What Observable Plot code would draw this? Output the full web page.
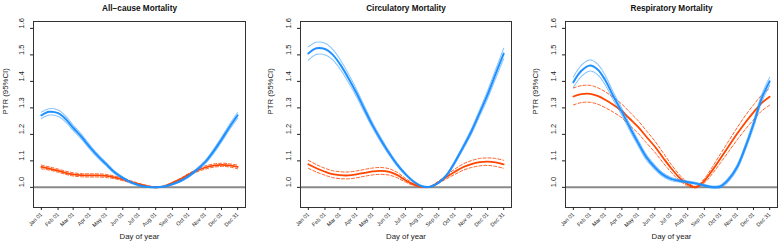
<!DOCTYPE html>
<html>
<head>
<meta charset="utf-8">
<script src="https://cdn.jsdelivr.net/npm/d3@7"></script>
<script src="https://cdn.jsdelivr.net/npm/@observablehq/plot@0.6"></script>
<style>
  html, body { margin: 0; padding: 0; background: white; }
  #wrap { display: flex; width: 778px; height: 242px; }
  #wrap svg { display: block; }
</style>
</head>
<body>
<div id="wrap"></div>
<script>
// Day-of-year grid on which curves were read
const days = [1, 16, 32, 46, 60, 75, 91, 106, 121, 136, 152, 167, 182, 197, 213, 228, 244, 259, 274, 289, 305, 320, 335, 350, 365];

// Tick positions and labels
const monthDays = [1, 32, 60, 91, 121, 152, 182, 213, 244, 274, 305, 335, 365];
const monthLabels = ["Jan 01","Feb 01","Mar 01","Apr 01","May 01","Jun 01","Jul 01","Aug 01","Sep 01","Oct 01","Nov 01","Dec 01","Dec 31"];
const yTicks = [1.0, 1.1, 1.2, 1.3, 1.4, 1.5, 1.6];

const titles = ["All\u2212cause Mortality", "Circulatory Mortality", "Respiratory Mortality"];

// All-cause
const allBlue = [1.272,1.285,1.280,1.258,1.225,1.192,1.152,1.118,1.088,1.058,1.036,1.019,1.008,1.002,1.000,1.003,1.012,1.024,1.042,1.066,1.096,1.135,1.180,1.228,1.272];
const allBlueCI = [0.012,0.012,0.012,0.011,0.010,0.009,0.008,0.007,0.006,0.005,0.004,0.003,0.002,0.001,0.001,0.001,0.002,0.003,0.004,0.005,0.006,0.008,0.009,0.010,0.011];
const allOrange = [1.077,1.071,1.063,1.055,1.049,1.046,1.045,1.045,1.043,1.038,1.030,1.021,1.012,1.005,1.000,1.004,1.017,1.031,1.048,1.063,1.075,1.082,1.085,1.083,1.077];
const allOrangeCI = [0.007,0.006,0.006,0.006,0.006,0.006,0.006,0.006,0.006,0.005,0.005,0.004,0.003,0.002,0.001,0.001,0.002,0.003,0.004,0.005,0.006,0.006,0.006,0.006,0.007];

// Circulatory
const circBlue = [1.505,1.525,1.522,1.502,1.465,1.415,1.355,1.293,1.233,1.180,1.128,1.085,1.050,1.022,1.004,1.002,1.018,1.047,1.095,1.150,1.212,1.280,1.350,1.428,1.505];
const circBlueCI = [0.025,0.023,0.022,0.020,0.018,0.016,0.014,0.012,0.010,0.009,0.007,0.006,0.004,0.002,0.001,0.001,0.002,0.004,0.006,0.008,0.010,0.012,0.015,0.017,0.020];
const circOrange = [1.087,1.072,1.059,1.050,1.046,1.045,1.049,1.055,1.060,1.062,1.058,1.046,1.027,1.011,1.002,1.002,1.020,1.040,1.059,1.076,1.088,1.095,1.097,1.094,1.087];
const circOrangeCI = [0.015,0.014,0.013,0.013,0.013,0.013,0.013,0.013,0.013,0.013,0.012,0.010,0.007,0.004,0.002,0.002,0.004,0.007,0.010,0.012,0.013,0.014,0.014,0.015,0.015];

// Respiratory
const respBlue = [1.397,1.440,1.460,1.445,1.405,1.345,1.285,1.225,1.168,1.115,1.076,1.048,1.032,1.025,1.020,1.015,1.007,1.001,1.004,1.030,1.078,1.152,1.238,1.335,1.400];
const respBlueCI = [0.020,0.021,0.021,0.020,0.018,0.015,0.013,0.012,0.011,0.010,0.008,0.007,0.006,0.005,0.004,0.004,0.004,0.004,0.005,0.007,0.009,0.011,0.013,0.014,0.015];
const respOrange = [1.343,1.352,1.353,1.345,1.331,1.312,1.288,1.258,1.228,1.192,1.154,1.113,1.073,1.038,1.012,1.001,1.025,1.065,1.110,1.155,1.203,1.245,1.283,1.318,1.342];
const respOrangeCI = [0.032,0.032,0.032,0.031,0.030,0.028,0.026,0.025,0.024,0.023,0.021,0.019,0.015,0.011,0.006,0.003,0.008,0.013,0.017,0.020,0.023,0.026,0.028,0.030,0.032];

const BLUE = "#1E90FF";
const ORANGE = "#FF4500";
const FONT = "'Liberation Sans', Arial, Helvetica, sans-serif";

function panel(title, blue, blueCI, orange, orangeCI, layout) {
  const data = days.map((d, i) => ({
    day: d,
    b: blue[i], bLo: blue[i] - blueCI[i], bHi: blue[i] + blueCI[i],
    o: orange[i], oLo: orange[i] - orangeCI[i], oHi: orange[i] + orangeCI[i]
  }));
  const curve = "catmull-rom";
  return Plot.plot({
    width: layout.width,
    height: 242,
    marginLeft: layout.ml,
    marginRight: layout.mr,
    marginTop: 21,
    marginBottom: 35,
    x: { domain: [1 - 14.56, 365 + 14.56] },
    y: { domain: [0.924, 1.626] },
    style: { fontFamily: FONT, background: "white", color: "#222" },
    marks: [
      Plot.ruleY([1], { stroke: "#8a8a8a", strokeWidth: 2 }),
      // orange CI (dashed)
      Plot.line(data, { x: "day", y: "oLo", curve, stroke: ORANGE, strokeWidth: 1, strokeOpacity: 0.85, strokeDasharray: "3,2" }),
      Plot.line(data, { x: "day", y: "oHi", curve, stroke: ORANGE, strokeWidth: 1, strokeOpacity: 0.85, strokeDasharray: "3,2" }),
      Plot.line(data, { x: "day", y: "o", curve, stroke: ORANGE, strokeWidth: 1.8 }),
      // blue CI (dotted)
      Plot.line(data, { x: "day", y: "bLo", curve, stroke: BLUE, strokeWidth: 1.1, strokeOpacity: 0.55, strokeDasharray: "1,1" }),
      Plot.line(data, { x: "day", y: "bHi", curve, stroke: BLUE, strokeWidth: 1.1, strokeOpacity: 0.55, strokeDasharray: "1,1" }),
      Plot.line(data, { x: "day", y: "b", curve, stroke: BLUE, strokeWidth: 2 }),
      Plot.frame({ stroke: "#333", strokeWidth: 1 }),
      Plot.axisX({
        ticks: monthDays,
        tickFormat: d => monthLabels[monthDays.indexOf(d)],
        tickRotate: -45,
        tickSize: 3,
        tickPadding: 3,
        fontSize: 5.5,
        label: null
      }),
      Plot.axisY({
        ticks: yTicks,
        tickFormat: () => "",
        tickSize: 3,
        label: null
      }),
      Plot.text(yTicks, {
        y: d => d, text: d => d.toFixed(1), frameAnchor: "left",
        dx: -12, rotate: -90, fontSize: 7.5, fill: "#222"
      }),
      Plot.text([title], {
        frameAnchor: "top", dy: -16.5, text: d => d,
        fontWeight: "bold", fontSize: 8.2, fill: "#111"
      }),
      Plot.text(["PTR (95%CI)"], {
        frameAnchor: "left", dx: layout.labelDx, rotate: -90, text: d => d,
        fontSize: 7.8, fill: "#222"
      }),
      Plot.text(["Day of year"], {
        frameAnchor: "bottom", dy: 31, text: d => d,
        fontSize: 7.8, fill: "#222"
      })
    ]
  });
}

const wrap = document.getElementById("wrap");
wrap.appendChild(panel(titles[0], allBlue, allBlueCI, allOrange, allOrangeCI, { width: 259, ml: 33, mr: 14, labelDx: -28 }));
wrap.appendChild(panel(titles[1], circBlue, circBlueCI, circOrange, circOrangeCI, { width: 259, ml: 41, mr: 7, labelDx: -30 }));
wrap.appendChild(panel(titles[2], respBlue, respBlueCI, respOrange, respOrangeCI, { width: 260, ml: 47, mr: 1, labelDx: -30 }));
</script>
</body>
</html>
